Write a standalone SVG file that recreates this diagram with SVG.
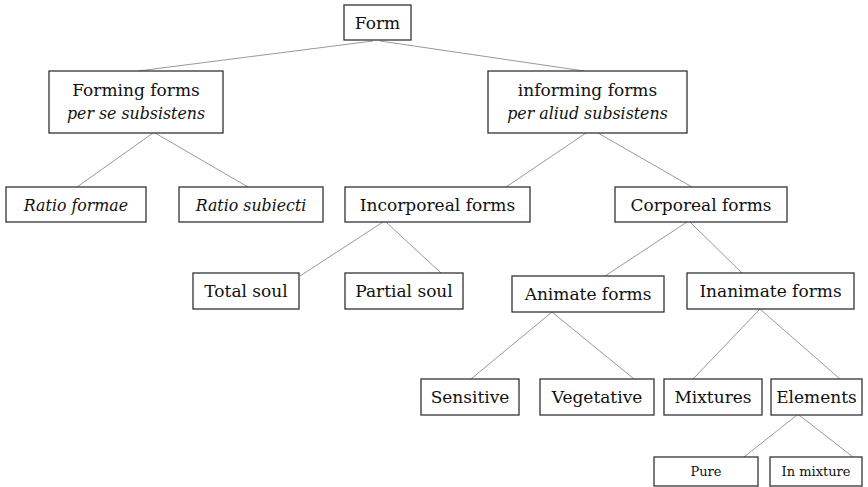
<svg xmlns="http://www.w3.org/2000/svg" width="868" height="487" viewBox="0 0 868 487">
<style>
.box{fill:#fff;stroke:#333;stroke-width:1.3}
.t{font-family:'DejaVu Serif','Noto Serif','Liberation Serif',serif;font-size:17px;fill:#111;text-anchor:middle}
.i{font-style:italic;font-size:15.8px}
.s{font-size:13px}
.c line{stroke:#999;stroke-width:1}
</style>
<rect width="868" height="487" fill="#fff"/>
<g class="c" id="connectors">
<line x1="373" y1="41" x2="138" y2="71"/>
<line x1="380" y1="41" x2="584" y2="71"/>
<line x1="153" y1="133" x2="77" y2="187"/>
<line x1="155" y1="133" x2="248" y2="187"/>
<line x1="586" y1="133" x2="506" y2="187"/>
<line x1="598" y1="133" x2="692" y2="187"/>
<line x1="383" y1="222" x2="300" y2="276"/>
<line x1="386" y1="222" x2="441" y2="273"/>
<line x1="687" y1="222" x2="605" y2="276"/>
<line x1="690" y1="222" x2="742" y2="273"/>
<line x1="552" y1="312" x2="471" y2="379"/>
<line x1="552" y1="312" x2="634" y2="379"/>
<line x1="760" y1="309" x2="693" y2="379"/>
<line x1="760" y1="309" x2="840" y2="379"/>
<line x1="797" y1="415" x2="744" y2="457"/>
<line x1="799" y1="415" x2="853" y2="457"/>
</g>
<g id="form"><rect class="box" x="344" y="5" width="67" height="35"/><text class="t" x="377.5" y="29">Form</text></g>
<g id="forming"><rect class="box" x="49" y="71" width="174" height="62"/><text class="t" x="136" y="96">Forming forms</text><text class="t i" x="136" y="119">per se subsistens</text></g>
<g id="informing"><rect class="box" x="488" y="71" width="199" height="62"/><text class="t" x="587.5" y="96">informing forms</text><text class="t i" x="587.5" y="119">per aliud subsistens</text></g>
<g id="ratio_formae"><rect class="box" x="6" y="187" width="140" height="35"/><text class="t i" x="76" y="210.5">Ratio formae</text></g>
<g id="ratio_subiecti"><rect class="box" x="179" y="187" width="144" height="35"/><text class="t i" x="251" y="210.5">Ratio subiecti</text></g>
<g id="incorporeal"><rect class="box" x="345" y="187" width="185" height="35"/><text class="t" x="437.5" y="210.5">Incorporeal forms</text></g>
<g id="corporeal"><rect class="box" x="615" y="187" width="172" height="35"/><text class="t" x="701" y="210.5">Corporeal forms</text></g>
<g id="total_soul"><rect class="box" x="193" y="273" width="106" height="36"/><text class="t" x="246" y="297">Total soul</text></g>
<g id="partial_soul"><rect class="box" x="345" y="273" width="118" height="36"/><text class="t" x="404" y="297">Partial soul</text></g>
<g id="animate"><rect class="box" x="512" y="276" width="152" height="36"/><text class="t" x="588" y="300">Animate forms</text></g>
<g id="inanimate"><rect class="box" x="687" y="273" width="167" height="36"/><text class="t" x="770.5" y="297">Inanimate forms</text></g>
<g id="sensitive"><rect class="box" x="421" y="379" width="98" height="36"/><text class="t" x="470" y="403">Sensitive</text></g>
<g id="vegetative"><rect class="box" x="540" y="379" width="114" height="36"/><text class="t" x="597" y="403">Vegetative</text></g>
<g id="mixtures"><rect class="box" x="664" y="379" width="98" height="36"/><text class="t" x="713" y="403">Mixtures</text></g>
<g id="elements"><rect class="box" x="771" y="379" width="91" height="36"/><text class="t" x="816.5" y="403">Elements</text></g>
<g id="pure"><rect class="box" x="654" y="457" width="104" height="29"/><text class="t s" x="706" y="475.5">Pure</text></g>
<g id="in_mixture"><rect class="box" x="770" y="457" width="92" height="29"/><text class="t s" x="816" y="475.5">In mixture</text></g>
</svg>
